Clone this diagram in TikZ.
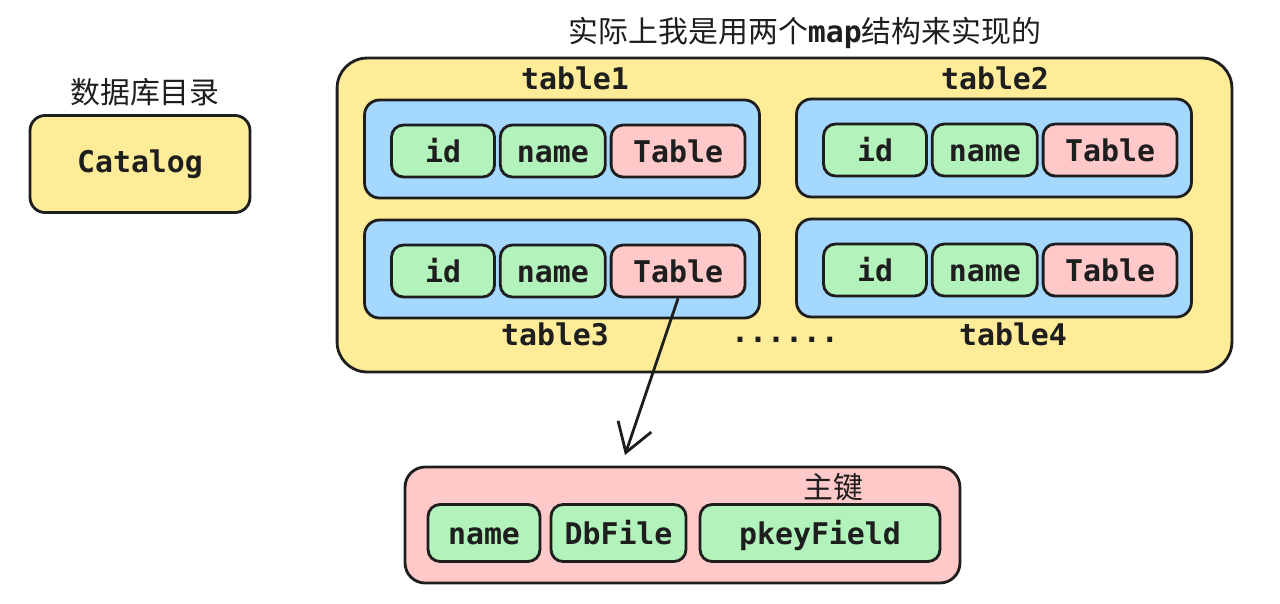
\documentclass[tikz,border=0pt]{standalone}
\usepackage{fontspec}
\usepackage{tikz}
\usetikzlibrary{positioning,arrows.meta}
\setmonofont{DejaVu Sans Mono}
\newfontfamily\cjk{Noto Sans CJK SC}
\definecolor{ink}{HTML}{1E1E1E}
\definecolor{paleyellow}{HTML}{FFEC99}
\definecolor{paleblue}{HTML}{A5D8FF}
\definecolor{palegreen}{HTML}{B2F2BB}
\definecolor{palered}{HTML}{FFC9C9}
\tikzset{
  sketch/.style={draw=ink,line width=1.6pt,rounded corners=0.24cm,inner sep=0pt},
  field/.style={sketch,fill=palegreen,minimum height=1.04cm,text height=14pt,text depth=1pt,
    font=\fontsize{17}{20}\selectfont\ttfamily\bfseries,text=ink},
  ref/.style={field,fill=palered},
  rowbox/.style={sketch,fill=paleblue,minimum width=7.9cm,minimum height=1.96cm,rounded corners=0.3cm},
  lbl/.style={font=\fontsize{17}{20}\selectfont\ttfamily\bfseries,text=ink},
  hanzi/.style={font=\fontsize{17}{20}\selectfont\cjk,text=ink}
}

\begin{document}
\begin{tikzpicture}[x=0.02cm,y=-0.02cm]
  \useasboundingbox (0,0) rectangle (1280,603);
  % left: catalog
  \node[hanzi] (cattitle) at (145,92) {数据库目录};
  \node[sketch,fill=paleyellow,minimum width=4.4cm,minimum height=1.94cm,rounded corners=0.3cm,lbl] (catalog) at (140,164) {Catalog};
  % the two maps
  \node[hanzi] (maptitle) at (805,33) {实际上我是用两个{\ttfamily\bfseries map}结构来实现的};
  \node[sketch,fill=paleyellow,minimum width=17.9cm,minimum height=6.28cm,rounded corners=0.6cm] (tables) at (784.5,215) {};
  \foreach \i/\x/\y/\lx/\ly in {1/562/149/575/78,2/994/148/995/78,3/562/269/555/334,4/994/268/1013/334}{
    \node[rowbox] (row\i) at (\x,\y) {};
    \node[field,minimum width=2.06cm] (id\i) at (\x-119,\y+2) {id};
    \node[field,minimum width=2.1cm,right=0.06cm of id\i] (name\i) {name};
    \node[ref,minimum width=2.68cm,right=0.06cm of name\i] (tab\i) {Table};
    \node[lbl] (tname\i) at (\lx,\ly) {table\i};
  }
  \node[lbl] (more) at (785,340) {......};
  % table entry
  \node[sketch,fill=palered,minimum width=11.1cm,minimum height=2.32cm,rounded corners=0.4cm] (entry) at (682.5,525) {};
  \node[field,minimum width=2.24cm,minimum height=1.14cm] (ename) at (484,533) {name};
  \node[field,minimum width=2.7cm,minimum height=1.14cm] (efile) at (618.5,533) {DbFile};
  \node[field,minimum width=4.8cm,minimum height=1.14cm] (ekey) at (820,533) {pkeyField};
  \node[hanzi] (keytitle) at (833,487) {主键};
  \coordinate (tip) at (625,455);
  \draw[ink,line width=1.6pt,-{Straight Barb[length=0.55cm,width=0.7cm]}] (tab3.south) -- (tip);
\end{tikzpicture}
\end{document}
